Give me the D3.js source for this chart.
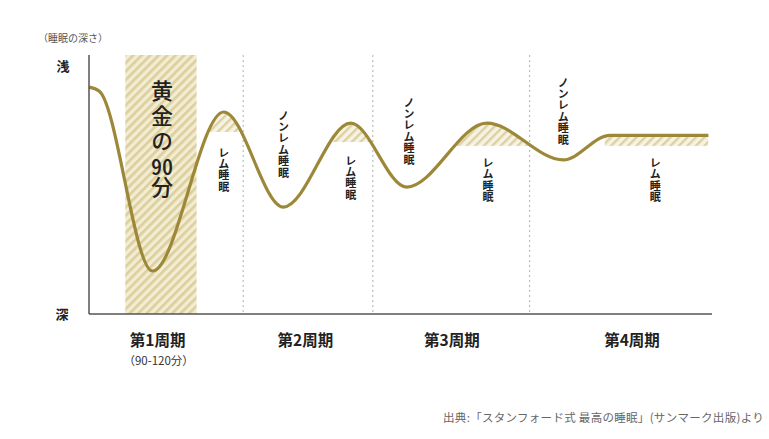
<!DOCTYPE html>
<html><head><meta charset="utf-8">
<script src="https://cdn.jsdelivr.net/npm/d3@7"></script>
<style>
body{margin:0;background:#fff;position:relative;}
svg{display:block;font-family:"Noto Sans CJK JP","Noto Sans",sans-serif;}
.golden{position:absolute;writing-mode:vertical-rl;text-orientation:upright;
  font-family:"Noto Sans CJK JP","Noto Sans",sans-serif;font-size:22px;line-height:24px;
  letter-spacing:2.6px;font-weight:500;color:#222;white-space:nowrap;}
.tcy{text-combine-upright:all;}
</style></head><body>
<script>
// ---- data ----
// time in minutes (x), sleep depth 0 = deep, 100 = shallow (y)
const curveTime  = [0, 8, 49, 104, 150, 202, 245, 307, 366, 402, 478];
const curveDepth = [87.6, 86, 16.6, 78, 41.3, 73.7, 49, 73.7, 59.5, 69, 69];
const cycleBounds = [0, 119, 219, 340, 478];
const cycleLabels = ["第1周期", "第2周期", "第3周期", "第4周期"];
const cycleLabelTime = [53, 167, 280, 419];
const goldenStart = 28, goldenEnd = 83;
const remStart = [80, 188, 280, 398];
const remEnd   = [119, 217, 342, 478];
const remThreshold = [70.3, 66.4, 64.9, 64.9];
const nremLabelTime = [150, 247, 366];
const nremLabelTop = [78.8, 83.8, 91.5];
const remLabelTime = [104, 202, 308, 437];
const remLabelTop = [64.5, 61.4, 60.6, 60.6];

const W = 769, H = 439;
const svg = d3.select("body").append("svg").attr("width", W).attr("height", H);
const x = d3.scaleLinear().domain([0, 480]).range([89, 711]);
const y = d3.scaleLinear().domain([0, 100]).range([314, 55]);

const data = curveTime.map((t, i) => ({t, d: curveDepth[i]}));

const defs = svg.append("defs");
const pat = defs.append("pattern").attr("id", "hatch").attr("patternUnits", "userSpaceOnUse")
  .attr("width", 6).attr("height", 6).attr("patternTransform", "rotate(45)");
pat.append("rect").attr("width", 6).attr("height", 6).attr("fill", "#f2ecd2");
pat.append("rect").attr("width", 2.6).attr("height", 6).attr("fill", "#dccf9c");

const pat2 = defs.append("pattern").attr("id", "hatch2").attr("patternUnits", "userSpaceOnUse")
  .attr("width", 6).attr("height", 6).attr("patternTransform", "rotate(45)");
pat2.append("rect").attr("width", 6).attr("height", 6).attr("fill", "#f7f3e4");
pat2.append("rect").attr("width", 2.4).attr("height", 6).attr("fill", "#ddd1a0");

const crv = d3.curveMonotoneX;
const line = d3.line().x(d => x(d.t)).y(d => y(d.d)).curve(crv);
const area = d3.area().x(d => x(d.t)).y0(y(0)).y1(d => y(d.d)).curve(crv);

defs.append("clipPath").attr("id", "under").append("path").attr("d", area(data));

// golden band
svg.append("rect").attr("x", x(goldenStart)).attr("y", y(100))
  .attr("width", x(goldenEnd) - x(goldenStart)).attr("height", y(0) - y(100))
  .attr("fill", "url(#hatch)");

// REM hatched regions
remStart.forEach((s, i) => {
  svg.append("rect").attr("x", x(s)).attr("y", y(100))
    .attr("width", x(remEnd[i]) - x(s)).attr("height", y(remThreshold[i]) - y(100))
    .attr("fill", "url(#hatch2)").attr("clip-path", "url(#under)");
});

// cycle dividers
cycleBounds.slice(1, -1).forEach(b => {
  svg.append("line").attr("x1", x(b)).attr("x2", x(b)).attr("y1", y(100)).attr("y2", y(0))
    .attr("stroke", "#bdbdbd").attr("stroke-width", 1.2).attr("stroke-dasharray", "2,3");
});

// curve
svg.append("path").attr("d", line(data)).attr("fill", "none")
  .attr("stroke", "#9c8838").attr("stroke-width", 3.2);

// axes
svg.append("line").attr("x1", x(0)).attr("x2", x(0)).attr("y1", y(100)).attr("y2", y(0))
  .attr("stroke", "#555").attr("stroke-width", 1.5);
svg.append("line").attr("x1", x(0)).attr("x2", x(480) + 1).attr("y1", y(0)).attr("y2", y(0))
  .attr("stroke", "#555").attr("stroke-width", 1.5);

// axis texts
svg.append("text").attr("x", 38).attr("y", 42).attr("font-size", 10).attr("fill", "#555").text("（睡眠の深さ）");
svg.append("text").attr("x", 63).attr("y", 71).attr("text-anchor", "middle").attr("font-size", 13)
  .attr("font-weight", "bold").attr("fill", "#222").text("浅");
svg.append("text").attr("x", 62).attr("y", 319).attr("text-anchor", "middle").attr("font-size", 13)
  .attr("font-weight", "bold").attr("fill", "#222").text("深");

// cycle labels
cycleLabels.forEach((c, i) => {
  svg.append("text").attr("x", x(cycleLabelTime[i])).attr("y", 346).attr("text-anchor", "middle")
    .attr("font-size", 15.5).attr("font-weight", "bold").attr("fill", "#222").text(c);
});
svg.append("text").attr("x", x(cycleLabelTime[0]) + 1).attr("y", 365).attr("text-anchor", "middle")
  .attr("font-size", 11.5).attr("fill", "#333").text("（90-120分）");

// vertical labels (single text, vertical writing mode)
function vlabel(cx, top, str) {
  svg.append("text").attr("x", cx).attr("y", top)
    .style("writing-mode", "vertical-rl").style("text-orientation", "upright")
    .attr("font-size", 11).attr("letter-spacing", 0.4)
    .attr("font-weight", "bold").attr("fill", "#222").text(str);
}
nremLabelTime.forEach((t, i) => vlabel(x(t), y(nremLabelTop[i]), "ノンレム睡眠"));
remLabelTime.forEach((t, i) => vlabel(x(t), y(remLabelTop[i]), "レム睡眠"));

// golden label (HTML vertical text with tate-chu-yoko for "90")
const gdiv = d3.select("body").append("div").attr("class", "golden")
  .style("left", (x((goldenStart + goldenEnd) / 2) - 12 + 1) + "px").style("top", "80px");
gdiv.append("span").text("黄金の");
gdiv.append("span").attr("class", "tcy").text("90");
gdiv.append("span").text("分");

// footer
svg.append("text").attr("x", 764).attr("y", 422).attr("text-anchor", "end").attr("font-size", 11.5)
  .attr("letter-spacing", 0.3).attr("fill", "#666").text("出典:「スタンフォード式 最高の睡眠」(サンマーク出版)より");
</script>
</body></html>
